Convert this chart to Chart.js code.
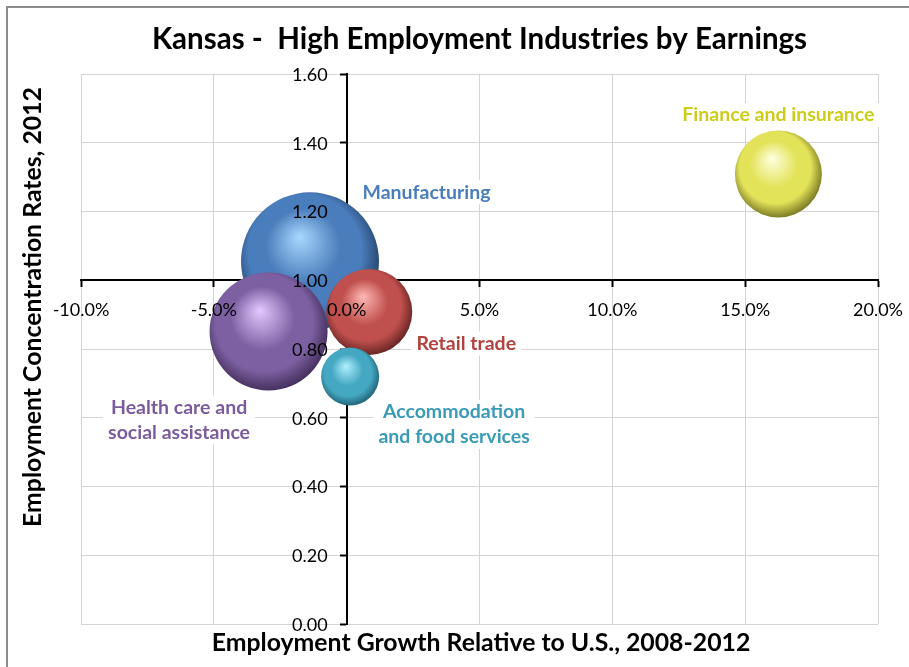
<!DOCTYPE html>
<html>
<head>
<meta charset="utf-8">
<script src="https://cdn.jsdelivr.net/npm/chart.js@4"></script>
<style>
  html, body { margin: 0; padding: 0; background: #fff; }
  #wrap { position: relative; width: 909px; height: 667px; }
</style>
</head>
<body>
<div id="wrap"><canvas id="c" width="909" height="667"></canvas></div>
<script>
// ---- data ----
const industries = ['Manufacturing', 'Finance and insurance', 'Retail trade', 'Health care and social assistance', 'Accommodation and food services'];
const labelLines = [['Manufacturing'], ['Finance and insurance'], ['Retail trade'], ['Health care and', 'social assistance'], ['Accommodation', 'and food services']];
const growthPct = [-1.38, 16.25, 0.85, -2.94, 0.13];          // x: employment growth relative to U.S., %
const concentration = [1.055, 1.309, 0.908, 0.851, 0.72];    // y: employment concentration rate
const bubbleRadius = [69, 43.5, 43, 59, 29];                 // bubble size (earnings)
const xTicks = [-10, -5, 0, 5, 10, 15, 20];
const yTicks = [0, 0.2, 0.4, 0.6, 0.8, 1.0, 1.2, 1.4, 1.6];

// ---- styles ----
const baseColors  = ['#4a7dbb', '#e3e35a', '#c0504d', '#7d60a2', '#45a8c2'];
const lightColors = ['#a8d8ff', '#ffffe0', '#ffb8b4', '#e4c8ff', '#b0f0ff'];
const darkColors  = ['#27466e', '#7d7d26', '#6a2725', '#46325f', '#22667a'];
const textColors  = ['#4a7ebb', '#cccc1a', '#b3423f', '#7a5c9e', '#3a9bb6'];
const labelOffsets = [[116.5, -69], [0, -59], [97, 31.5], [-89.5, 88.5], [104, 48]];

const FONT = 'Lato, "Open Sans", sans-serif';

function sphereFill(ctx) {
  const chart = ctx.chart;
  const i = ctx.dataIndex;
  const xs = chart.scales.x, ys = chart.scales.y;
  if (!xs || !ys || i === undefined) return baseColors[0];
  const cx = xs.getPixelForValue(growthPct[i]);
  const cy = ys.getPixelForValue(concentration[i]);
  const r = bubbleRadius[i];
  if (!isFinite(cx) || !isFinite(cy)) return baseColors[i];
  const g = chart.ctx.createRadialGradient(cx - 0.15 * r, cy - 0.36 * r, 0, cx - 0.05 * r, cy - 0.08 * r, 1.08 * r);
  g.addColorStop(0, lightColors[i]);
  g.addColorStop(0.5, baseColors[i]);
  g.addColorStop(0.76, baseColors[i]);
  g.addColorStop(1, darkColors[i]);
  return g;
}

const labelPlugin = {
  id: 'bubbleLabels',
  afterDatasetsDraw(chart) {
    const c = chart.ctx;
    const xs = chart.scales.x, ys = chart.scales.y;
    c.save();
    c.font = 'bold 19.5px ' + FONT;
    c.textAlign = 'center';
    c.textBaseline = 'middle';
    industries.forEach((name, i) => {
      const cx = xs.getPixelForValue(growthPct[i]) + labelOffsets[i][0];
      const cy = ys.getPixelForValue(concentration[i]) + labelOffsets[i][1];
      const lines = labelLines[i];
      const lh = 25;
      const y0 = cy - (lines.length - 1) * lh / 2;
      let w = 0;
      lines.forEach(l => { w = Math.max(w, c.measureText(l).width); });
      c.fillStyle = '#fff';
      c.fillRect(cx - w / 2 - 5, y0 - 12, w + 10, (lines.length - 1) * lh + 24);
      c.fillStyle = textColors[i];
      lines.forEach((l, k) => c.fillText(l, cx, y0 + k * lh));
    });
    c.restore();
  }
};

const framePlugin = {
  id: 'frame',
  afterDraw(chart) {
    const c = chart.ctx;
    const xs = chart.scales.x, ys = chart.scales.y;
    c.save();
    // y tick labels, left of the centred y axis
    c.fillStyle = '#000';
    c.font = '18px ' + FONT;
    c.textAlign = 'right';
    c.textBaseline = 'middle';
    const axisX = xs.getPixelForValue(0);
    yTicks.forEach(v => c.fillText(v.toFixed(2), axisX - 19, ys.getPixelForValue(v) + 1));
    // outer frame
    c.strokeStyle = '#8c8c8c';
    c.lineWidth = 2;
    c.beginPath();
    c.moveTo(7, 700); c.lineTo(7, 7); c.lineTo(920, 7);
    c.stroke();
    // axis titles
    c.fillStyle = '#000';
    c.font = 'bold 24.8px ' + FONT;
    c.textAlign = 'center';
    c.textBaseline = 'middle';
    c.fillText('Employment Growth Relative to U.S., 2008-2012', 481, 643);
    c.translate(33, 307);
    c.rotate(-Math.PI / 2);
    c.fillText('Employment Concentration Rates, 2012', 0, 0);
    c.restore();
  }
};

new Chart(document.getElementById('c'), {
  type: 'bubble',
  data: {
    datasets: [{
      label: 'Industries',
      data: industries.map((n, i) => ({ x: growthPct[i], y: concentration[i], r: bubbleRadius[i] })),
      backgroundColor: sphereFill,
      borderWidth: 0,
      hoverBorderWidth: 0
    }]
  },
  options: {
    responsive: false,
    animation: false,
    events: [],
    layout: { autoPadding: false, padding: { left: 81, right: 31, top: 0, bottom: 43 } },
    plugins: {
      legend: { display: false },
      tooltip: { enabled: false },
      title: {
        display: true,
        text: 'Kansas -  High Employment Industries by Earnings',
        color: '#000',
        font: { family: FONT, size: 29.5, weight: 'bold', lineHeight: 1.2 },
        padding: { top: 22, bottom: 16.6 }
      }
    },
    scales: {
      x: {
        type: 'linear',
        min: -10, max: 20,
        position: { y: 1.0 },
        afterBuildTicks: s => { s.ticks = xTicks.map(v => ({ value: v })); },
        afterFit: s => { s.height = 0; s.paddingLeft = 0; s.paddingRight = 0; },
        ticks: {
          z: 1,
          autoSkip: false,
          maxRotation: 0,
          color: '#000',
          font: { family: FONT, size: 18 },
          padding: 13,
          callback: v => v.toFixed(1) + '%'
        },
        grid: { color: '#d4d4d4', lineWidth: 1, tickLength: 6, tickColor: '#000', tickWidth: 2 },
        border: { display: true, color: '#000', width: 2 }
      },
      y: {
        type: 'linear',
        min: 0, max: 1.6,
        position: { x: 0 },
        afterBuildTicks: s => { s.ticks = yTicks.map(v => ({ value: v })); },
        afterFit: s => { s.width = 0; s.paddingTop = 0; s.paddingBottom = 0; },
        ticks: { display: false },
        grid: { color: '#d4d4d4', lineWidth: 1, tickLength: 6, tickColor: '#000', tickWidth: 2 },
        border: { display: true, color: '#000', width: 2 }
      }
    }
  },
  plugins: [labelPlugin, framePlugin]
});
</script>
</body>
</html>
